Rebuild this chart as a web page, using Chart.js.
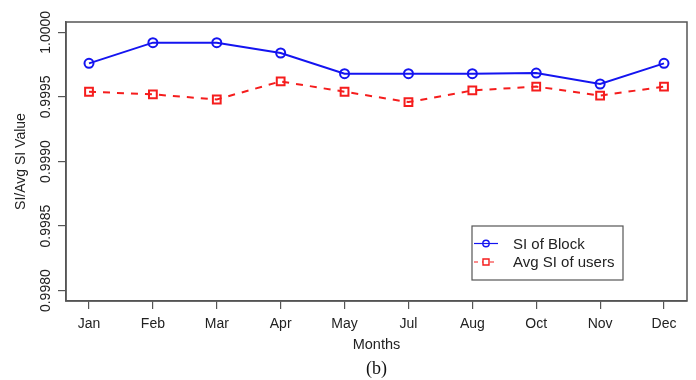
<!DOCTYPE html>
<html>
<head>
<meta charset="utf-8">
<script src="https://cdn.jsdelivr.net/npm/chart.js@4/dist/chart.umd.min.js"></script>
<style>
  html, body { margin: 0; padding: 0; background: #fff; }
  #wrap { width: 696px; height: 380px; }
</style>
</head>
<body>
<div id="wrap"><canvas id="chart" width="696" height="380"></canvas></div>
<script>
// DATA
const months = ['Jan', 'Feb', 'Mar', 'Apr', 'May', 'Jul', 'Aug', 'Oct', 'Nov', 'Dec'];
const siBlock = [0.99976, 0.99992, 0.99992, 0.99984, 0.99968, 0.99968, 0.99968, 0.999685, 0.99960, 0.99976];
const siUsers = [0.99954, 0.99952, 0.99948, 0.99962, 0.99954, 0.99946, 0.99955, 0.99958, 0.99951, 0.99958];
const yTicks = [0.9980, 0.9985, 0.9990, 0.9995, 1.0000];

const FONT = '"Liberation Sans", Arial, sans-serif';
const AXIS = '#555';
const TEXT = '#222';

// BOX, ROTATED Y LABELS, LEGEND, CAPTION
const extras = {
    id: 'extras',
    afterDraw(chart) {
        const { ctx, chartArea: a } = chart;
        const y = chart.scales.y;
        ctx.save();
        ctx.strokeStyle = AXIS;
        ctx.lineWidth = 1.5;
        ctx.strokeRect(a.left, a.top, a.right - a.left, a.bottom - a.top);

        // y tick labels, parallel to the axis like R does
        ctx.fillStyle = TEXT;
        ctx.font = '14px ' + FONT;
        ctx.textAlign = 'center';
        ctx.textBaseline = 'middle';
        y.ticks.forEach(t => {
            const py = y.getPixelForValue(t.value);
            ctx.save();
            ctx.translate(a.left - 20, py);
            ctx.rotate(-Math.PI / 2);
            ctx.fillText(t.value.toFixed(4), 0, 0);
            ctx.restore();
        });

        // legend box
        const bw = 151, bh = 54;
        const bx = a.right - 64 - bw, by = a.bottom - 21 - bh;
        ctx.lineWidth = 1.2;
        ctx.strokeStyle = AXIS;
        ctx.strokeRect(bx, by, bw, bh);
        chart.data.datasets.forEach((ds, i) => {
            const ly = by + 17.5 + i * 18.5;
            ctx.strokeStyle = ds.borderColor;
            ctx.lineWidth = 1.2;
            ctx.setLineDash(ds.borderDash ? [4, 4] : []);
            ctx.beginPath();
            ctx.moveTo(bx + 2, ly);
            ctx.lineTo(bx + 26, ly);
            ctx.stroke();
            ctx.setLineDash([]);
            ctx.lineWidth = 1.4;
            ctx.beginPath();
            ctx.fillStyle = '#fff';
            if (ds.pointStyle === 'rect') {
                ctx.rect(bx + 11, ly - 3, 6, 6);
            } else {
                ctx.arc(bx + 14, ly, 3.2, 0, Math.PI * 2);
            }
            ctx.fill();
            ctx.stroke();
            if (ds.pointStyle !== 'rect') {
                ctx.lineWidth = 1.2;
                ctx.beginPath();
                ctx.moveTo(bx + 10.8, ly);
                ctx.lineTo(bx + 17.2, ly);
                ctx.stroke();
            }
            ctx.fillStyle = TEXT;
            ctx.font = '15px ' + FONT;
            ctx.textAlign = 'left';
            ctx.fillText(ds.label, bx + 41, ly + 1);
        });

        // caption
        ctx.fillStyle = '#111';
        ctx.font = '18px "Liberation Serif", "Times New Roman", serif';
        ctx.textAlign = 'center';
        ctx.fillText('(b)', (a.left + a.right) / 2, 369);
        ctx.restore();
    }
};

const ctx = document.getElementById('chart').getContext('2d');
new Chart(ctx, {
    type: 'line',
    data: {
        datasets: [{
            label: 'SI of Block',
            data: siBlock.map((v, i) => ({ x: i, y: v })),
            borderColor: '#1414f0',
            borderWidth: 2,
            pointStyle: 'circle',
            pointRadius: 4.5,
            pointBorderWidth: 2,
            pointBackgroundColor: 'rgba(0,0,0,0)',
            pointBorderColor: '#1414f0',
            tension: 0
        }, {
            label: 'Avg SI of users',
            data: siUsers.map((v, i) => ({ x: i, y: v })),
            borderColor: '#f51d1d',
            borderWidth: 2,
            borderDash: [7, 7],
            pointStyle: 'rect',
            pointRadius: 5.5,
            pointBorderWidth: 2,
            pointBackgroundColor: 'rgba(0,0,0,0)',
            pointBorderColor: '#f51d1d',
            tension: 0
        }]
    },
    options: {
        responsive: false,
        animation: false,
        layout: { padding: { top: 22, right: 9, left: 0, bottom: 0 } },
        plugins: {
            legend: { display: false },
            tooltip: { enabled: false }
        },
        scales: {
            x: {
                type: 'linear',
                min: -0.36,
                max: 9.36,
                afterBuildTicks: s => { s.ticks = months.map((m, i) => ({ value: i })); },
                afterFit: s => { s.height = 79; },
                ticks: {
                    color: TEXT,
                    font: { family: FONT, size: 14 },
                    padding: 7,
                    maxRotation: 0,
                    autoSkip: false,
                    callback: v => months[v]
                },
                grid: { drawOnChartArea: false, drawTicks: true, tickLength: 8, color: AXIS, lineWidth: 1.2 },
                border: { display: true, color: AXIS, width: 1.5 },
                title: {
                    display: true,
                    text: 'Months',
                    color: TEXT,
                    font: { family: FONT, size: 14.5 },
                    padding: { top: 0, bottom: 26 }
                }
            },
            y: {
                type: 'linear',
                min: 0.99792,
                max: 1.00008,
                afterBuildTicks: s => { s.ticks = yTicks.map(v => ({ value: v })); },
                afterFit: s => { s.width = 66; },
                ticks: { display: false },
                grid: { drawOnChartArea: false, drawTicks: true, tickLength: 8, color: AXIS, lineWidth: 1.2 },
                border: { display: true, color: AXIS, width: 1.5 },
                title: {
                    display: true,
                    text: 'SI/Avg SI Value',
                    color: TEXT,
                    font: { family: FONT, size: 14 },
                    padding: { top: 13, bottom: 0 }
                }
            }
        }
    },
    plugins: [extras]
});
</script>
</body>
</html>
